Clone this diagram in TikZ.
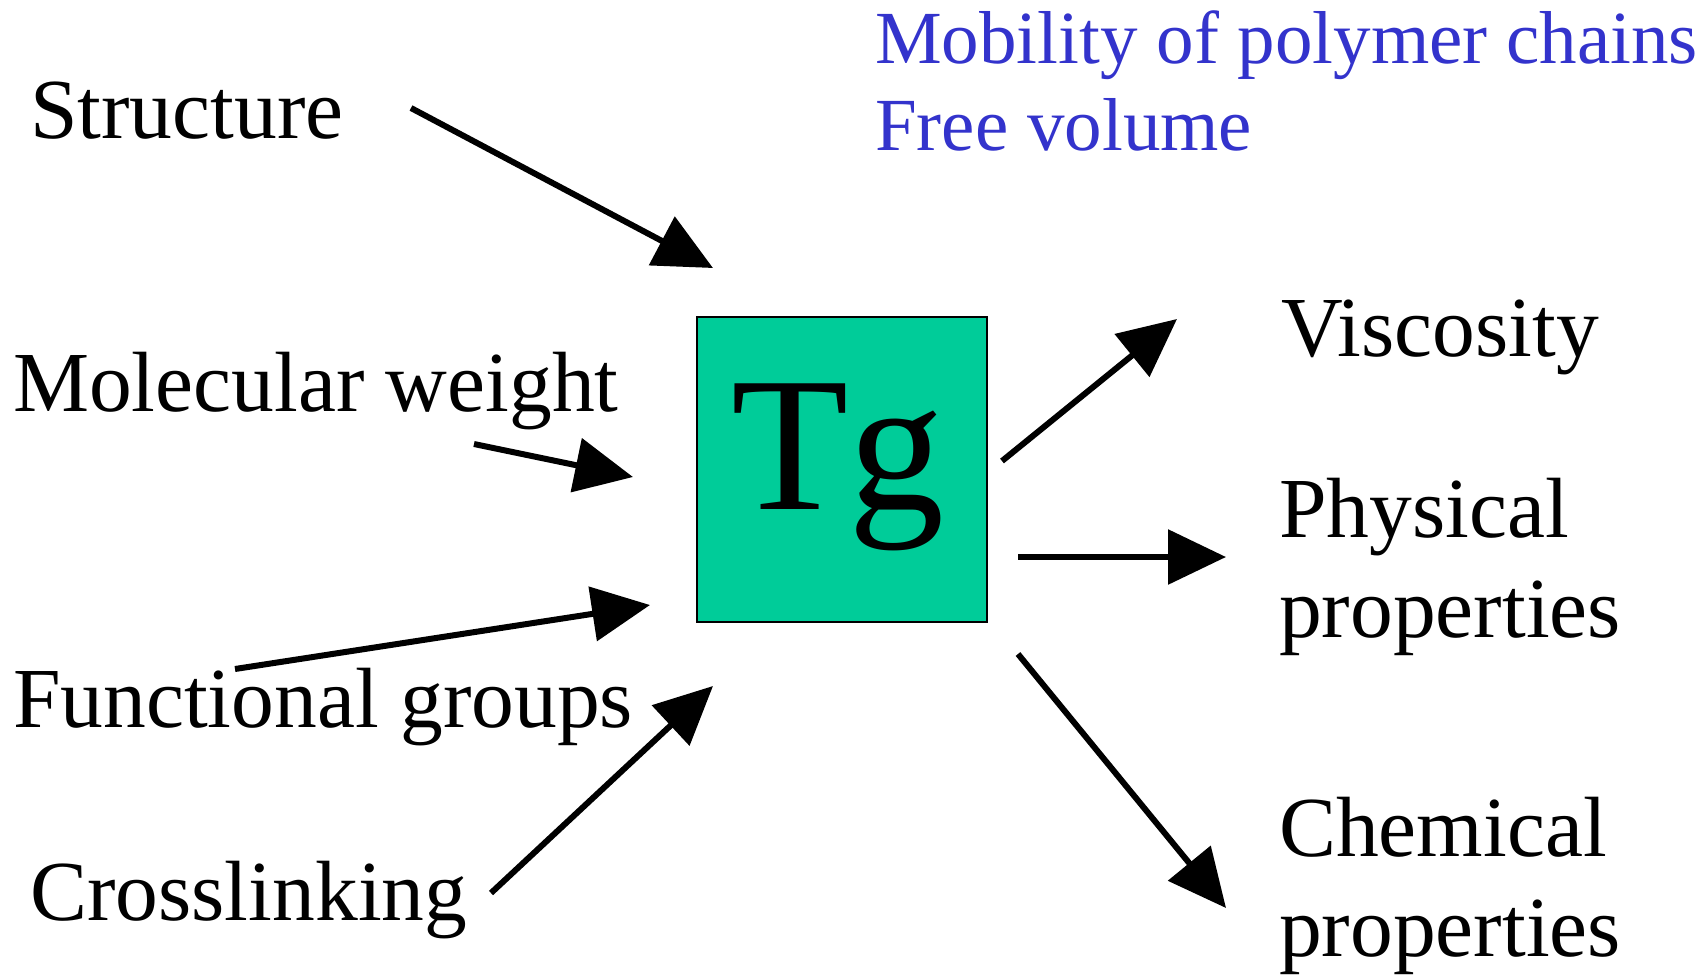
\documentclass[tikz,border=0pt]{standalone}
\usepackage{fontspec}
\setmainfont{Liberation Serif}
\definecolor{tgteal}{RGB}{0,204,153}
\definecolor{tgblue}{RGB}{51,51,204}
\usetikzlibrary{arrows.meta,calc}

\tikzset{
  factor/.style={anchor=base west,inner sep=0pt,align=left,font=\fontsize{85.5}{100}\selectfont},
  effect/.style={-{Triangle[length=58pt,width=54pt]},line width=6pt},
}

\begin{document}
\begin{tikzpicture}[x=1pt,y=-1pt]
\useasboundingbox (0,0) rectangle (1708,978);

% Tg box
\node[draw,line width=1.5pt,fill=tgteal,minimum width=290pt,minimum height=305pt,inner sep=0pt] (tg) at (842,469.5) {};
\node[anchor=base west,inner sep=0pt,font=\fontsize{192}{192}\selectfont] (tgtext) at (731,509) {Tg};

% mechanism (base = last line)
\node[factor,tgblue,font=\fontsize{75}{87}\selectfont] (mobility) at (875,150) {Mobility of polymer chains\\Free volume};

% causes
\node[factor] (struct) at (30,138) {Structure};
\node[factor] (molw) at (13,411) {Molecular weight};
\node[factor] (func) at (13,727) {Functional groups};
\node[factor] (cross) at (30,920) {Crosslinking};

% effects
\node[factor] (visc) at (1281,356) {Viscosity};
\node[factor] (phys) at (1279,637) {Physical\\properties};
\node[factor] (chem) at (1279,956) {Chemical\\properties};

% arrow ends
\coordinate (struct-s) at (411,108);  \coordinate (struct-e) at (713,268);
\coordinate (molw-s) at (474,444);    \coordinate (molw-e) at (633,477);
\coordinate (func-s) at (235,669);    \coordinate (func-e) at (650,605);
\coordinate (cross-s) at (491,893);   \coordinate (cross-e) at (713,686);
\coordinate (visc-s) at (1002,461);   \coordinate (visc-e) at (1177,319);
\coordinate (phys-s) at (1018,557);   \coordinate (phys-e) at (1226,557);
\coordinate (chem-s) at (1018,654);   \coordinate (chem-e) at (1226,908);

\draw[effect] (struct-s) -- (struct-e);
\draw[effect] (molw-s) -- (molw-e);
\draw[effect] (func-s) -- (func-e);
\draw[effect] (cross-s) -- (cross-e);
\draw[effect] (visc-s) -- (visc-e);
\draw[effect] (phys-s) -- (phys-e);
\draw[effect] (chem-s) -- (chem-e);
\end{tikzpicture}
\end{document}
